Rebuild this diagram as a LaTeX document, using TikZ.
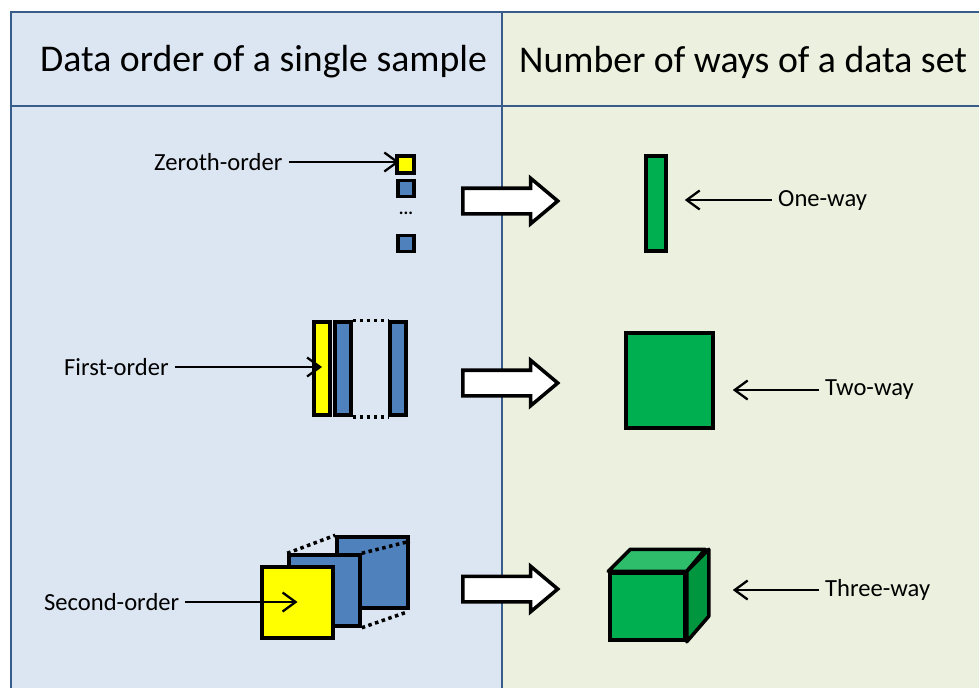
\documentclass[tikz,border=0pt]{standalone}
\usepackage{fontspec}
\setmainfont{Carlito}
\usetikzlibrary{arrows.meta, positioning, shapes.arrows, calc}
\definecolor{cblue}{HTML}{4F81BD}
\definecolor{cline}{HTML}{385D8A}
\definecolor{cleft}{HTML}{DCE6F2}
\definecolor{cright}{HTML}{EBF1DE}
\definecolor{cyellow}{HTML}{FFFF00}
\definecolor{cgreen}{HTML}{00B050}
\definecolor{cgreenlt}{HTML}{2EBD6B}
\definecolor{cgreendk}{HTML}{00963F}
\tikzset{
  every picture/.style={font=\fontsize{14}{17}\selectfont},
  cell/.style={draw=black, fill=#1, line width=2pt, inner sep=0pt},
  cell/.default=cblue,
  pointer/.style={-{Straight Barb[length=2.6mm, width=3.8mm]}, line width=1.3pt},
  bigarrow/.style={single arrow, draw=black, fill=white, line width=2pt, inner sep=0.22cm, anchor=west,
    minimum height=1.9cm, single arrow head extend=0.2cm, single arrow tip angle=80},
  header/.style={font=\fontsize{21.5}{25}\selectfont, anchor=west},
  tag/.style={anchor=west},
  dotline/.style={line width=2pt, dash pattern=on 2pt off 2pt},
}

\begin{document}
\begin{tikzpicture}[x=0.02cm, y=-0.02cm]
  \useasboundingbox (0,0) rectangle (979,687);
  % table background and rules
  \fill[cleft] (11,12) rectangle (502,700);
  \fill[cright] (502,12) rectangle (990,700);
  \draw[cline, line width=1.6pt] (11,700) -- (11,12) -- (990,12);
  \draw[cline, line width=1.6pt] (11,106) -- (990,106);
  \draw[cline, line width=1.3pt] (502,12) -- (502,700);
  \node[header] (hl) at (34,62) {Data order of a single sample};
  \node[header] (hr) at (513,62) {Number of ways of a data set};

  % zeroth-order sample -> one-way data
  \node[tag] (zt) at (148,162) {Zeroth-order};
  \node[cell=cyellow, minimum size=0.34cm] (z0) at (405.5,164.5) {};
  \node[cell, minimum size=0.32cm] (z1) at (406,188.5) {};
  \node[font=\bfseries] (zd) at (406,213) {...};
  \node[cell, minimum size=0.32cm] (z2) at (406,243.5) {};
  \draw[pointer] (zt.east) -- ($(zt.east -| z0.west)+(4,0)$);
  \node[bigarrow] (big1) at (461,201) {};
  \node[cell=cgreen, minimum width=0.4cm, minimum height=1.9cm] (g1) at (656,203.5) {};
  \node[tag] (ow) at (772,200) {One-way};
  \draw[pointer, shorten >=0.34cm] (ow.west) -- (ow.west -| g1.east);

  % first-order sample -> two-way data
  \node[tag] (ft) at (58,367) {First-order};
  \node[cell=cyellow, minimum width=0.32cm, minimum height=1.86cm] (f0) at (322,368.5) {};
  \node[cell, minimum width=0.32cm, minimum height=1.86cm] (f1) at (343,368.5) {};
  \node[cell, minimum width=0.32cm, minimum height=1.86cm] (f2) at (398,368.5) {};
  \draw[dotline] (f1.north east) -- (f2.north west);
  \draw[dotline] (f1.south east) -- (f2.south west);
  \draw[pointer] (ft.east) -- (ft.east -| f0.center);
  \node[bigarrow] (big2) at (461,383) {};
  \node[cell=cgreen, minimum width=1.74cm, minimum height=1.9cm] (g2) at (669.5,380.5) {};
  \node[tag] (tw) at (819,390) {Two-way};
  \draw[pointer, shorten >=0.36cm] (tw.west) -- (tw.west -| g2.east);

  % second-order sample -> three-way data
  \node[tag] (st) at (38,602) {Second-order};
  \node[cell, minimum size=1.42cm] (s2) at (372.5,572.5) {};
  \node[cell, minimum size=1.42cm] (s1) at (324.5,590.5) {};
  \node[cell=cyellow, minimum size=1.42cm] (s0) at (297.5,602.5) {};
  \draw[dotline] (s1.north west) -- (s2.north west);
  \draw[dotline] (s1.north east) -- ($(s2.north east)+(0,6)$);
  \draw[dotline] (s1.south east) -- ($(s2.south east)+(-2,2)$);
  \draw[pointer] (st.east) -- (st.east -| s0.center);
  \node[bigarrow] (big3) at (461,589) {};
  \node[cell=cgreen, minimum width=1.5cm, minimum height=1.34cm] (cubef) at (647.5,606.5) {};
  \draw[fill=cgreenlt, line width=2pt, line join=round]
    (cubef.north west) -- ++(22,-22) -- ++(75,0) -- (cubef.north east) -- cycle;
  \draw[fill=cgreendk, line width=2pt, line join=round]
    (cubef.north east) -- ++(22,-22) -- ++(0,67) -- (cubef.south east) -- cycle;
  \node[tag] (th) at (819,590) {Three-way};
  \draw[pointer, shorten >=0.92cm] (th.west) -- (th.west -| cubef.east);
\end{tikzpicture}
\end{document}
